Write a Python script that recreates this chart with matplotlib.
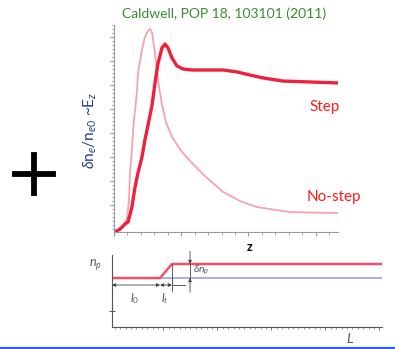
import numpy as np
import matplotlib
matplotlib.use("Agg")
import matplotlib.pyplot as plt
from matplotlib.lines import Line2D

plt.rcParams['font.family'] = ['Lato', 'DejaVu Sans']
plt.rcParams['mathtext.fontset'] = 'custom'
plt.rcParams['mathtext.rm'] = 'Lato'
plt.rcParams['mathtext.it'] = 'Lato:italic'

# ---- data (top panel): wakefield amplitude vs z ----
z_step = [0.04, 0.27, 0.49, 0.63, 0.80, 0.94, 1.07, 1.25, 1.38, 1.52, 1.70, 1.83, 1.96,
          2.14, 2.28, 2.41, 2.59, 2.81, 3.08, 3.48, 4.06, 4.87, 5.49, 6.07, 6.65, 7.54, 10.0]
E_step = [0.0, 0.125, 0.33, 0.42, 1.04, 1.88, 2.46, 3.13, 3.83, 4.46, 5.29, 6.21, 7.0,
          7.67, 7.83, 7.67, 7.25, 6.92, 6.79, 6.75, 6.75, 6.75, 6.67, 6.54, 6.42, 6.29, 6.21]

z_nostep = [0.04, 0.27, 0.45, 0.58, 0.67, 0.71, 0.80, 0.85, 0.94, 1.03, 1.07, 1.25, 1.38,
            1.52, 1.61, 1.70, 1.83, 1.96, 2.14, 2.32, 2.59, 3.04, 3.48, 4.06, 4.87,
            5.63, 6.38, 7.86, 10.0]
E_nostep = [0.0, 0.08, 0.25, 0.58, 1.33, 2.38, 3.42, 4.25, 5.08, 5.92, 6.63, 7.58, 8.13,
            8.38, 8.46, 8.29, 7.46, 6.33, 5.33, 4.58, 3.96, 3.33, 2.88, 2.33, 1.67,
            1.29, 1.04, 0.83, 0.79]

# ---- data (bottom panel): density profile ----
L_step = [0.0, 1.78, 2.22, 10.0]
n_step = [0.68, 0.68, 0.875, 0.875]
L_flat = [1.78, 10.0]
n_flat = [0.68, 0.68]

W, H = 395, 349
fig = plt.figure(figsize=(W / 100, H / 100), dpi=100)

def fx(px):
    return px / W

def fy(py):
    return 1 - py / H

def box(l, t, r, b):
    return [fx(l), fy(b), fx(r) - fx(l), fy(t) - fy(b)]

# ---------- top axes ----------
ax = fig.add_axes(box(114, 25, 338, 232))
ax.plot(z_nostep, E_nostep, color='#f5a3ad', lw=1.3, solid_capstyle='round',
        solid_joinstyle='round')
ax.plot(z_step, E_step, color='#f0203c', lw=2.4, solid_capstyle='round',
        solid_joinstyle='round')
ax.set_xlim(0, 10)
ax.set_ylim(0, 8.625)
for s in ['top', 'right']:
    ax.spines[s].set_visible(False)
for s in ['left', 'bottom']:
    ax.spines[s].set_color('#9a9a9a')
    ax.spines[s].set_linewidth(0.8)
ax.set_xticks(np.arange(0, 10.1, 3))
ax.set_xticks(np.arange(0, 10.1, 0.6), minor=True)
ax.set_yticks(np.arange(1.125, 8.7, 1))
ax.set_yticks(np.arange(0.125, 8.7, 1 / 6), minor=True)
ax.tick_params(which='major', direction='out', length=3, width=0.8, color='#9a9a9a',
               labelleft=False, labelbottom=False)
ax.tick_params(which='minor', direction='out', length=1.8, width=0.6, color='#9a9a9a')
ax.patch.set_alpha(0)

# ---------- bottom axes ----------
bx = fig.add_axes(box(112, 255, 382, 327))
bx.plot(L_flat, n_flat, color='#a7a7e6', lw=1.3)
bx.plot(L_step, n_step, color='#f2506a', lw=1.8)
bx.set_xlim(0, 10)
bx.set_ylim(0, 1)
for s in ['top', 'right']:
    bx.spines[s].set_visible(False)
for s in ['left', 'bottom']:
    bx.spines[s].set_color('#555555')
    bx.spines[s].set_linewidth(0.8)
bx.set_xticks(np.arange(1.9, 10, 2))
bx.set_xticks(np.arange(0.1, 10, 0.2), minor=True)
bx.set_yticks([0.22])
bx.tick_params(axis='x', which='major', direction='out', length=2.2, width=0.7,
               color='#777777', labelbottom=False)
bx.tick_params(axis='x', which='minor', direction='out', length=1.3, width=0.5,
               color='#777777')
bx.tick_params(axis='y', which='major', direction='inout', length=4, width=0.7,
               color='#555555', labelleft=False)
bx.patch.set_alpha(0)

ac = '#444444'
# l0 and lt dimension arrows
bx.annotate('', xy=(0, 0.583), xytext=(1.78, 0.583),
            arrowprops=dict(arrowstyle='<|-|>', color=ac, lw=0.6, mutation_scale=5,
                            shrinkA=0, shrinkB=0))
bx.annotate('', xy=(1.78, 0.583), xytext=(2.22, 0.583),
            arrowprops=dict(arrowstyle='<|-|>', color=ac, lw=0.6, mutation_scale=5,
                            shrinkA=0, shrinkB=0))
bx.plot([2.22, 2.7], [0.583, 0.583], color=ac, lw=0.6)
bx.plot([2.22, 2.22], [0.875, 0.50], color=ac, lw=0.6)
# delta n_p arrow
bx.annotate('', xy=(2.89, 0.875), xytext=(2.89, 1.05),
            arrowprops=dict(arrowstyle='-|>', color=ac, lw=0.6, mutation_scale=5,
                            shrinkA=0, shrinkB=0), annotation_clip=False)
bx.annotate('', xy=(2.89, 0.68), xytext=(2.89, 0.48),
            arrowprops=dict(arrowstyle='-|>', color=ac, lw=0.6, mutation_scale=5,
                            shrinkA=0, shrinkB=0))
bx.plot([2.89, 2.89], [0.68, 0.875], color=ac, lw=0.6)

serif = 'DejaVu Serif'
bx.text(0.85, 0.40, r'$l_0$', fontsize=8.5, color='#555555', ha='center', va='center',
        family=serif)
bx.text(1.97, 0.40, r'$l_t$', fontsize=8.5, color='#555555', ha='center', va='center',
        family=serif)
bx.text(3.0, 0.78, r'$\delta n_p$', fontsize=7.5, color='#555555', ha='left', va='center',
        family=serif)

# ---------- figure texts ----------
fig.text(fx(224), fy(14), 'Caldwell, POP 18, 103101 (2011)', color='#3a8a32',
         fontsize=10, ha='center', va='center')
fig.text(fx(90), fy(130), r'$\delta$n$_e$/n$_{e0}$ ~E$_z$', color='#1e3f8f',
         fontsize=11, rotation=90, ha='center', va='center')
fig.text(fx(250), fy(247), 'z', fontsize=9, fontweight='bold', color='black',
         ha='center', va='center')
fig.text(fx(325), fy(107), 'Step', fontsize=11, color='#ff1a1a', ha='center', va='center')
fig.text(fx(334), fy(197), 'No-step', fontsize=11, color='#ff1a1a', ha='center',
         va='center')
fig.text(fx(95), fy(265), r'$n_p$', fontsize=9, color='#555555', ha='center',
         va='center', family=serif)
fig.text(fx(350), fy(339), r'$L$', fontsize=10, color='#555555', ha='center',
         va='center', family=serif)

# big plus sign
fig.add_artist(Line2D([fx(15), fx(53)], [fy(174), fy(174)], color='black', lw=4.2))
fig.add_artist(Line2D([fx(34), fx(34)], [fy(155), fy(193)], color='black', lw=4.2))

# blue rule at bottom
fig.add_artist(Line2D([0, 1], [fy(348), fy(348)], color='#2a62ff', lw=1.6))

fig.savefig('out.png', dpi=100)
